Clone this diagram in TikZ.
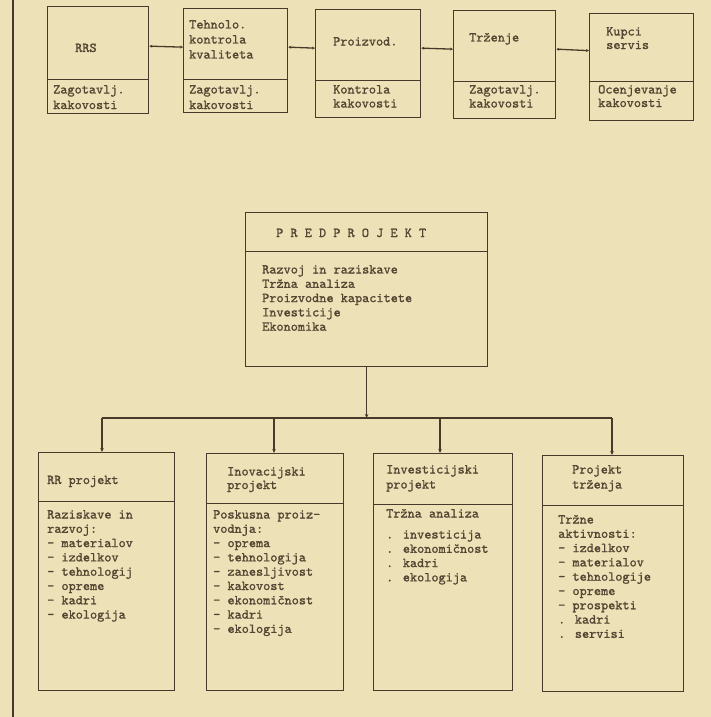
\documentclass[tikz,border=0pt]{standalone}
\usepackage{fontspec}
\newfontfamily\tw[FakeBold=1.2]{lmmono10-regular.otf}
\usetikzlibrary{arrows.meta}
\definecolor{paper}{RGB}{237,225,183}
\definecolor{ink}{RGB}{72,58,42}
\definecolor{tink}{RGB}{84,68,50}
\newcommand{\ml}[1]{\begin{tabular}[t]{@{}l@{}}#1\end{tabular}}
\tikzset{
  x=1pt, y=-1pt,
  box/.style={draw=ink, line width=1.3pt, inner sep=0pt, anchor=north west, rectangle},
  txt/.style={font=\tw\fontsize{13.6}{14.3}\selectfont, text=tink, anchor=base west, inner sep=0pt},
  wide/.style={font=\tw\fontsize{13.6}{15.5}\selectfont},
  conn/.style={draw=ink, line width=1.3pt},
  tip/.style={-{Stealth[length=4pt,width=3.5pt]}},
  dtip/.style={{Stealth[length=3pt,width=3pt]}-{Stealth[length=3pt,width=3pt]}}
}
\newcommand{\boxpair}[6]{% name, x1, y1, x2, ydiv, y2
  \node[box, minimum width=#4-#2, minimum height=#5-#3] (#1H) at (#2,#3) {};
  \node[box, minimum width=#4-#2, minimum height=#6-#5] (#1B) at (#2,#5) {};
}
\begin{document}
\begin{tikzpicture}
\fill[paper] (0,0) rectangle (711,717);
\useasboundingbox (0,0) rectangle (711,717);
% left margin rule
\coordinate (mt) at (13,0);
\coordinate (mb) at (13,717);
\draw[conn] (mt) -- (mb);

% ---------- top row ----------
\boxpair{a}{47}{6}{148}{79}{113}
\boxpair{b}{183}{8}{287}{79}{112}
\boxpair{c}{315}{9}{420}{80}{117}
\boxpair{d}{453}{10}{555}{81}{118}
\boxpair{e}{589}{13}{693}{81}{120}

\draw[conn,dtip] ([yshift=-3pt]aH.east) -- ([yshift=-3pt]bH.west);
\draw[conn,dtip] ([yshift=-3pt]bH.east) -- ([yshift=-3pt]cH.west);
\draw[conn,dtip] ([yshift=-3pt]cH.east) -- ([yshift=-3pt]dH.west);
\draw[conn,dtip] ([yshift=-3pt]dH.east) -- ([yshift=-3pt]eH.west);

\node[txt] (aHt) at (75,52) {RRS};
\node[txt,wide] (aBt) at (53,93.5) {\ml{Zagotavlj.\\kakovosti}};
\node[txt,font=\tw\fontsize{13.6}{15}\selectfont] (bHt) at (189,28.5) {\ml{Tehnolo.\\kontrola\\kvaliteta}};
\node[txt,wide] (bBt) at (189,93.5) {\ml{Zagotavlj.\\kakovosti}};
\node[txt] (cHt) at (333,45.5) {Proizvod.};
\node[txt,font=\tw\fontsize{13.6}{14}\selectfont] (cBt) at (333,93.5) {\ml{Kontrola\\kakovosti}};
\node[txt] (dHt) at (469,41.5) {Trženje};
\node[txt,font=\tw\fontsize{13.6}{14}\selectfont] (dBt) at (469,93.5) {\ml{Zagotavlj.\\kakovosti}};
\node[txt,font=\tw\fontsize{13.6}{13.5}\selectfont] (eHt) at (606,35.5) {\ml{Kupci\\servis}};
\node[txt,font=\tw\fontsize{13.6}{13.5}\selectfont] (eBt) at (598,93.5) {\ml{Ocenjevanje\\kakovosti}};

% ---------- predprojekt ----------
\boxpair{p}{245}{212}{487}{251}{366}
\node[txt] (pHt) at (276,237) {P R E D P R O J E K T};
\node[txt] (pBt) at (262,273.5) {\ml{Razvoj in raziskave\\Tržna analiza\\Proizvodne kapacitete\\Investicije\\Ekonomika}};

% ---------- bottom row ----------
\boxpair{r}{38}{452}{174}{501}{690}
\boxpair{i}{206}{453}{343}{503}{690}
\boxpair{v}{373}{453}{512}{504}{690}
\boxpair{t}{542}{455}{683}{505}{691}

\coordinate (b1) at (102,418);
\coordinate (b2) at (274,418);
\coordinate (b3) at (440,418);
\coordinate (b4) at (612,418);
\draw[conn] (b1) -- (b4);
\draw[conn,tip] (pB.south) -- (pB.south |- b1);
\draw[conn,tip] (b1) -- (b1 |- rH.north);
\draw[conn,tip] (b2) -- (b2 |- iH.north);
\draw[conn,tip] (b3) -- (b3 |- vH.north);
\draw[conn,tip] (b4) -- (b4 |- tH.north);

\node[txt] (rHt) at (47,484) {RR projekt};
\node[txt] (rBt) at (47,518.5) {\ml{Raziskave in\\razvoj:\\- materialov\\- izdelkov\\- tehnologij\\- opreme\\- kadri\\- ekologija}};

\node[txt,font=\tw\fontsize{13.6}{13.5}\selectfont] (iHt) at (227,475.5) {\ml{Inovacijski\\projekt}};
\node[txt] (iBt) at (213,518.5) {\ml{Poskusna proiz-\\vodnja:\\- oprema\\- tehnologija\\- zanesljivost\\- kakovost\\- ekonomičnost\\- kadri\\- ekologija}};

\node[txt,font=\tw\fontsize{13.6}{15}\selectfont] (vHt) at (386,473.5) {\ml{Investicijski\\projekt}};
\node[txt] (vBt) at (386,517.5) {Tržna analiza};
\node[txt] (vLt) at (386,538.5) {\ml{. investicija\\. ekonomičnost\\. kadri\\. ekologija}};

\node[txt,font=\tw\fontsize{13.6}{15}\selectfont] (tHt) at (572,473.5) {\ml{Projekt\\trženja}};
\node[txt] (tBt) at (558,523.5) {\ml{Tržne\\aktivnosti:\\- izdelkov\\- materialov\\- tehnologije\\- opreme\\- prospekti\\. kadri\\. servisi}};
\end{tikzpicture}
\end{document}
